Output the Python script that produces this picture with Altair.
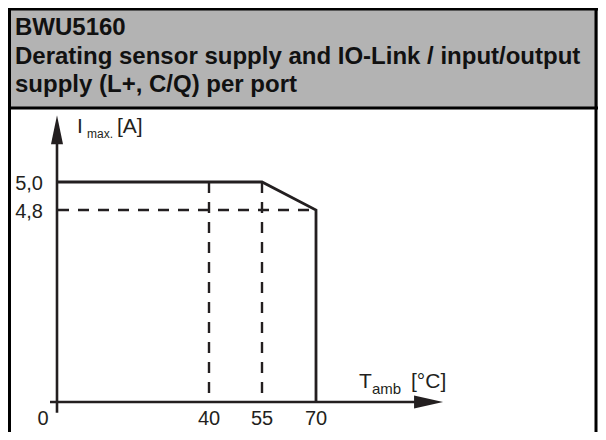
import altair as alt
import pandas as pd

# ---- data ----
curve_temp = [0, 55, 70, 70]          # T_amb [°C]
curve_imax = [5.0, 5.0, 4.8, 0.0]     # I_max [A]

x_tick_vals = [40, 55, 70]
x_tick_text = ["40", "55", "70"]
origin_text = ["0"]
y_tick_vals = [5.0, 4.8]
y_tick_text = ["5,0", "4,8"]

vguide_temps = [40, 55]   # dashed verticals up to 5,0 A
hguide_imax = [4.8]       # dashed horizontal up to 70 °C
hguide_end = [70]

header_lines = [
    "BWU5160",
    "Derating sensor supply and IO-Link / input/output",
    "supply (L+, C/Q) per port",
]

# axis extents (data units) incl. arrow tips
x_axis_from, x_axis_to, x_tip = -1.84, 100.0, 105.3
y_axis_from, y_axis_to, y_tip = -0.27, 5.33, 5.476

INK = "#231f20"
FONT = "Liberation Sans"
W, H = 590, 424

xs = alt.Scale(domain=[0, 40, 55, 70], range=[49, 201, 254, 308], nice=False, zero=False)
ys = alt.Scale(domain=[0, 4.8, 5.0], range=[394, 202, 174], nice=False, zero=False)

X = lambda f: alt.X(f, type="quantitative", scale=xs, axis=None)
Y = lambda f: alt.Y(f, type="quantitative", scale=ys, axis=None)

one = pd.DataFrame({"a": [0]})

# header
hdr_bg = alt.Chart(one).mark_rect(color="#b3b3b3").encode(
    x=alt.value(0), x2=alt.value(W), y=alt.value(0), y2=alt.value(100))
hdr_df = pd.DataFrame({"t": header_lines, "yy": [27, 55.5, 84]})
hdr_txt = alt.Chart(hdr_df).mark_text(
    align="left", baseline="alphabetic", font=FONT, fontSize=24, fontWeight="bold", color="#111111"
).encode(x=alt.value(7), y=alt.Y("yy:Q", scale=None), text="t:N")

rule = dict(color="#000", strokeWidth=3)
border_top = alt.Chart(one).mark_rule(**rule).encode(x=alt.value(0), x2=alt.value(W), y=alt.value(1))
border_mid = alt.Chart(one).mark_rule(**rule).encode(x=alt.value(0), x2=alt.value(W), y=alt.value(100))
border_left = alt.Chart(one).mark_rule(**rule).encode(x=alt.value(1.5), y=alt.value(0), y2=alt.value(H))
border_right = alt.Chart(one).mark_rule(**rule).encode(x=alt.value(W - 2), y=alt.value(0), y2=alt.value(H))

# axes
xaxis = alt.Chart(pd.DataFrame({"a": [x_axis_from], "b": [x_axis_to], "c": [0.0]})).mark_rule(
    color=INK, strokeWidth=2.6).encode(x=X("a"), x2="b", y=Y("c"))
yaxis = alt.Chart(pd.DataFrame({"a": [0.0], "b": [y_axis_from], "c": [y_axis_to]})).mark_rule(
    color=INK, strokeWidth=2.6).encode(x=X("a"), y=Y("b"), y2="c")
xarrow = alt.Chart(pd.DataFrame({"a": [x_tip], "c": [0.0]})).mark_point(
    shape="M1,0L-1,-0.45L-1,0.45Z", size=841, filled=True, color=INK, opacity=1, strokeWidth=0,
    xOffset=-14.5).encode(x=X("a"), y=Y("c"))
yarrow = alt.Chart(pd.DataFrame({"a": [0.0], "c": [y_tip]})).mark_point(
    shape="M0,-1L0.414,1L-0.414,1Z", size=841, filled=True, color=INK, opacity=1, strokeWidth=0,
    yOffset=14.5).encode(x=X("a"), y=Y("c"))

# dashed guides
vg = alt.Chart(pd.DataFrame({"t": vguide_temps, "top": [5.0] * len(vguide_temps), "bot": [0.0] * len(vguide_temps)})).mark_rule(
    color=INK, strokeWidth=2.4, strokeDash=[11, 9]).encode(x=X("t"), y=Y("top"), y2="bot")
hg = alt.Chart(pd.DataFrame({"s": [0.0], "e": hguide_end, "i": hguide_imax})).mark_rule(
    color=INK, strokeWidth=2.4, strokeDash=[11, 9], strokeDashOffset=-1).encode(x=X("s"), x2="e", y=Y("i"))

# derating curve
curve = alt.Chart(pd.DataFrame({"t": curve_temp, "i": curve_imax, "o": range(len(curve_temp))})).mark_line(
    color=INK, strokeWidth=2.8, strokeJoin="miter").encode(x=X("t"), y=Y("i"), order="o:Q")

# tick labels
xlab = alt.Chart(pd.DataFrame({"t": x_tick_vals, "l": x_tick_text, "z": [0.0] * 3})).mark_text(
    font=FONT, fontSize=20, color=INK, baseline="middle", align="center", dy=17).encode(
    x=X("t"), y=Y("z"), text="l:N")
olab = alt.Chart(pd.DataFrame({"t": [0.0], "l": origin_text, "z": [0.0]})).mark_text(
    font=FONT, fontSize=20, color=INK, baseline="middle", align="center", dy=17, dx=-14).encode(
    x=X("t"), y=Y("z"), text="l:N")
ylab = alt.Chart(pd.DataFrame({"t": [0.0] * 2, "i": y_tick_vals, "l": y_tick_text})).mark_text(
    font=FONT, fontSize=20, color=INK, baseline="middle", align="right", dx=-14, dy=2).encode(
    x=X("t"), y=Y("i"), text="l:N")

# axis titles
def txt(s, x, y, size):
    return alt.Chart(pd.DataFrame({"s": [s]})).mark_text(
        font=FONT, fontSize=size, color=INK, align="left", baseline="middle").encode(
        x=alt.value(x), y=alt.value(y), text="s:N")

titles = [
    txt("I", 69, 119, 21), txt("max.", 79, 126, 12), txt("[A]", 109, 119, 21),
    txt("T", 351, 374, 21), txt("amb", 364, 381, 15), txt("[°C]", 403, 374, 21),
]

chart = alt.layer(
    hdr_bg, hdr_txt, border_top, border_mid, border_left, border_right,
    vg, hg, xaxis, yaxis, xarrow, yarrow, curve, xlab, olab, ylab, *titles
).properties(width=W, height=H, padding=0, autosize="none", background="white"
).configure_view(stroke=None)

chart.save("out.html", embed_options={"renderer": "svg", "actions": False})
